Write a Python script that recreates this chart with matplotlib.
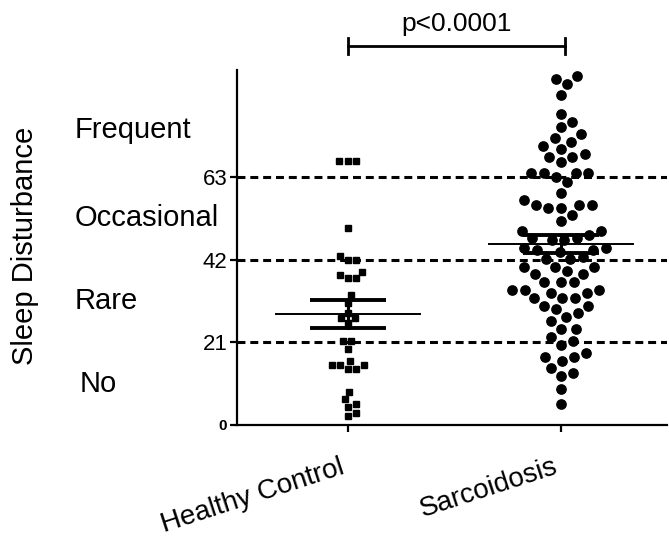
import numpy as np
import matplotlib
matplotlib.use("Agg")
import matplotlib.pyplot as plt
from matplotlib.transforms import blended_transform_factory

plt.rcParams["font.family"] = ["Liberation Sans", "DejaVu Sans"]

# Values
GROUPS = ["Healthy Control", "Sarcoidosis"]
HEALTHY = [67, 67, 67, 50, 43, 42, 42, 39, 38, 37.3, 37.3, 33, 31, 28.5, 27.2, 27.2,
           26, 21.3, 21.3, 19.3, 16.3, 15.2, 15.2, 15.2, 14.2, 14.2, 8.4, 6.6, 5.3, 4.6, 3.1, 2.3]
SARC = [88.6, 87.9, 86.6, 83.8, 79.0, 77.0, 75.7, 73.9, 72.9, 71.9, 70.9, 70.1, 68.8,
        68.1, 68.1, 66.8, 64.0, 64.0, 64.0, 64.0, 63.0, 61.7, 58.9, 57.1, 55.9, 55.9,
        55.9, 55.1, 55.1, 53.3, 51.8, 49.3, 48.3, 49.3, 47.5, 47.5, 47.0, 47.0, 45.0,
        45.0, 44.5, 44.5, 44.0, 42.7, 42.2, 42.2, 40.1, 40.1, 40.1, 39.1, 38.3, 38.3,
        36.3, 36.3, 36.3, 34.3, 34.3, 34.3, 33.5, 33.5, 32.3, 32.3, 32.3, 30.2, 30.2,
        29.5, 28.4, 27.4, 26.4, 24.4, 24.4, 22.4, 21.3, 20.3, 18.3, 17.3, 17.3, 16.3,
        14.5, 13.2, 12.4, 9.1, 5.3]
MEANS = [28.2, 46.0]
SEMS = [3.5, 2.3]
CUTOFFS = [21, 42, 63]
YTICKS = [0, 21, 42, 63]
LEVELS = ["No", "Rare", "Occasional", "Frequent"]
LEVEL_Y = [10.5, 31.5, 52.5, 75]
P_TEXT = "p<0.0001"

W, H, DPI = 669, 538, 100
fig = plt.figure(figsize=(W / DPI, H / DPI), dpi=DPI)
ax = fig.add_axes([237 / W, 1 - 425 / H, 430 / W, 355 / H])
XLIM = (-0.521, 1.498)
YLIM = (0, 90.2)
ax.set_xlim(*XLIM)
ax.set_ylim(*YLIM)

px_x = 430 / (XLIM[1] - XLIM[0])
px_y = 355 / (YLIM[1] - YLIM[0])


def swarm_offsets(values, diam):
    # simple beeswarm in pixel space, returns x offsets in data units
    ys = np.asarray(values, dtype=float) * px_y
    xs = np.zeros(len(ys))
    placed = []
    for i in np.argsort(ys):
        y = ys[i]
        near = [(px, py) for px, py in placed if abs(py - y) < diam]
        cands = [0.0]
        for px, py in near:
            dx = np.sqrt(diam ** 2 - (py - y) ** 2)
            cands += [px + dx, px - dx]
        cands.sort(key=abs)
        for c in cands:
            if all((c - px) ** 2 + (y - py) ** 2 >= diam ** 2 - 1e-6 for px, py in near):
                xs[i] = c
                break
        placed.append((xs[i], y))
    return xs / px_x


# cutoff lines
for c in CUTOFFS:
    ax.axhline(c, color="black", lw=2.2, linestyle=(0, (2.6, 1.6)), zorder=1)

# points
hx = swarm_offsets(HEALTHY, 8.5)
sx = swarm_offsets(SARC, 12.6)
ax.plot(0 + hx, HEALTHY, "s", color="black", ms=4.4, zorder=3)
ax.plot(1 + sx, SARC, "o", color="black", ms=6.7, zorder=3)

# mean +/- SEM
for i, (m, s) in enumerate(zip(MEANS, SEMS)):
    ax.plot([i - 0.34, i + 0.34], [m, m], color="black", lw=1.4, zorder=4)
    ax.plot([i, i], [m - s, m + s], color="black", lw=2.2, zorder=4)
    for y in (m - s, m + s):
        ax.plot([i - 0.18, i + 0.18], [y, y], color="black", lw=2.8,
                solid_capstyle="butt", zorder=4)

# significance bracket
yb = 96.3
ax.plot([0, 1.02], [yb, yb], color="black", lw=2, clip_on=False)
for xb in (0, 1.02):
    ax.plot([xb, xb], [yb - 2.0, yb + 2.0], color="black", lw=2, clip_on=False)
ax.text(0.51, yb + 2.5, P_TEXT, ha="center", va="bottom", fontsize=19, clip_on=False)

# axes styling
for side in ("top", "right"):
    ax.spines[side].set_visible(False)
for side in ("left", "bottom"):
    ax.spines[side].set_linewidth(1.6)
ax.set_yticks(YTICKS)
ax.set_yticklabels([str(t) for t in YTICKS])
ax.tick_params(axis="y", length=5, width=1.6, labelsize=16, pad=2)
ax.tick_params(axis="x", length=5, width=1.6, labelsize=20, pad=16)
lbls = ax.get_yticklabels()
lbls[0].set_fontsize(11)
lbls[0].set_fontweight("bold")
ax.set_xticks(range(len(GROUPS)))
ax.set_xticklabels(GROUPS, rotation=18, ha="right", va="top")

# severity labels at left
tr = blended_transform_factory(fig.transFigure, ax.transData)
for name, y in zip(LEVELS, LEVEL_Y):
    x0 = 80 / W if name == "No" else 75 / W
    fig.text(x0, y, name, transform=tr, ha="left", va="center", fontsize=21)

fig.text(25 / W, 1 - 246 / H, "Sleep Disturbance", rotation=90,
         ha="center", va="center", fontsize=21)

fig.savefig("out.png", dpi=DPI)
